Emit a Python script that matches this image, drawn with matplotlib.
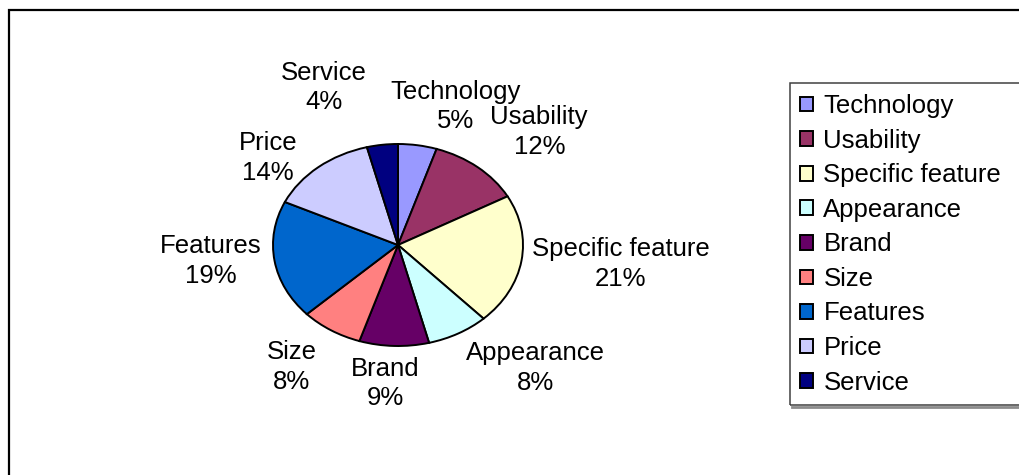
import matplotlib
matplotlib.use("Agg")
import matplotlib.pyplot as plt
from matplotlib.patches import Rectangle
from matplotlib.lines import Line2D

plt.rcParams['font.family'] = ['Liberation Sans', 'DejaVu Sans']

# share of mentions per aspect (%)
aspects = ["Technology", "Usability", "Specific feature", "Appearance",
           "Brand", "Size", "Features", "Price", "Service"]
shares = [5, 12, 21, 8, 9, 8, 19, 14, 4]
colors = ["#9999FF", "#993366", "#FFFFCC", "#CCFFFF", "#660066",
          "#FF8080", "#0066CC", "#CCCCFF", "#000080"]

# label centres in pie units (x: 1 = horizontal radius, y: 1 = vertical radius)
label_pos = [(0.46, 1.37), (1.13, 1.12), (1.78, -0.19), (1.10, -1.22),
             (-0.10, -1.37), (-0.85, -1.21), (-1.50, -0.16), (-1.04, 0.86),
             (-0.59, 1.56)]

W, H = 1019, 475
fig = plt.figure(figsize=(W / 100, H / 100), dpi=100)
ax = fig.add_axes([0, 0, 1, 1])

# pie centre and radii in pixels (the pie is squashed into an ellipse)
cx, cy, rx, ry = 398, 245, 125, 101

wedges, _ = ax.pie(shares, colors=colors, startangle=90, counterclock=False,
                   radius=1, wedgeprops=dict(edgecolor="black", linewidth=1.4))
ax.set_aspect("auto")
ax.set_xlim(-cx / rx, (W - cx) / rx)
ax.set_ylim((cy - H) / ry, cy / ry)
ax.axis("off")

for name, val, (lx, ly) in zip(aspects, shares, label_pos):
    ax.text(lx, ly, f"{name}\n{val}%", ha="center", va="center",
            fontsize=18.5, linespacing=1.3, color="black")

leg = ax.legend(wedges, aspects, loc="upper left",
                bbox_to_anchor=(790 / W, 1 - 84 / H), bbox_transform=fig.transFigure,
                borderaxespad=0, fontsize=18.5, frameon=False,
                handlelength=0.5, handleheight=0.5, handletextpad=0.4,
                borderpad=0.4, labelspacing=0.41)
leg.set_zorder(10)

# legend box runs off the right edge, grey shadow along the bottom
ax.add_patch(Rectangle((790 / W, 1 - 405 / H), 240 / W, 322 / H, transform=fig.transFigure,
                       fill=False, edgecolor="#404040", linewidth=1.1,
                       clip_on=False, zorder=3))
ax.add_line(Line2D([792 / W, 1.01], [1 - 406.5 / H] * 2, transform=fig.transFigure,
                   color="#8c8c8c", linewidth=2, clip_on=False, zorder=3))

# outer chart border
ax.add_patch(Rectangle((9 / W, -0.1), 1.1, 1.1 - 10 / H, transform=fig.transFigure,
                       fill=False, edgecolor="black", linewidth=1.6, clip_on=False))

fig.savefig("out.png", dpi=100)
